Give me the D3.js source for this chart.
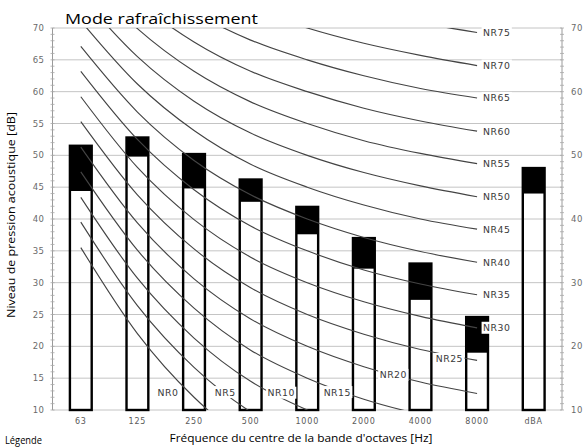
<!DOCTYPE html>
<html><head><meta charset="utf-8">
<script src="https://cdn.jsdelivr.net/npm/d3@7"></script>
<style>
body{margin:0;background:#fff}
svg{display:block}
</style></head><body>
<svg id="chart" width="585" height="447"></svg>
<script>
// Octave bands plus the overall A-weighted level
const categories = ['63', '125', '250', '500', '1000', '2000', '4000', '8000', 'dBA'];
// Total level (top of the black block) and base level (top of the white part), dB
const totalLevel = [51.5, 52.8, 50.2, 46.2, 41.9, 37.0, 33.0, 24.6, 48.0];
const baseLevel  = [44.4, 49.8, 44.8, 42.7, 37.6, 32.2, 27.3, 19.0, 44.0];

// Noise Rating curves, levels in dB for the bands 63 ... 8000 Hz
const nrBands = ['63', '125', '250', '500', '1000', '2000', '4000', '8000'];
const nrNames = ['NR0', 'NR5', 'NR10', 'NR15', 'NR20', 'NR25', 'NR30', 'NR35',
                 'NR40', 'NR45', 'NR50', 'NR55', 'NR60', 'NR65', 'NR70', 'NR75'];
const nrCurves = [
  [35.5, 22.0, 12.0,  4.8,  0.0, -3.5, -6.1, -8.0],
  [39.5, 26.4, 16.7,  9.7,  5.0,  1.6, -1.0, -2.9],
  [43.4, 30.7, 21.3, 14.5, 10.0,  6.7,  4.2,  2.3],
  [47.4, 35.1, 26.0, 19.4, 15.0, 11.7,  9.3,  7.5],
  [51.3, 39.4, 30.6, 24.3, 20.0, 16.8, 14.4, 12.6],
  [55.3, 43.8, 35.3, 29.2, 25.0, 21.9, 19.5, 17.8],
  [59.2, 48.1, 39.9, 34.0, 30.0, 27.0, 24.7, 22.9],
  [63.2, 52.5, 44.6, 38.9, 35.0, 32.0, 29.8, 28.1],
  [67.1, 56.8, 49.2, 43.8, 40.0, 37.1, 34.9, 33.2],
  [71.1, 61.2, 53.9, 48.6, 45.0, 42.2, 40.0, 38.4],
  [75.0, 65.5, 58.5, 53.5, 50.0, 47.3, 45.2, 43.5],
  [78.9, 69.9, 63.2, 58.4, 55.0, 52.3, 50.3, 48.7],
  [82.9, 74.2, 67.8, 63.2, 60.0, 57.4, 55.4, 53.8],
  [86.9, 78.6, 72.5, 68.1, 65.0, 62.5, 60.5, 59.0],
  [90.8, 82.9, 77.1, 73.0, 70.0, 67.6, 65.7, 64.1],
  [94.8, 87.3, 81.8, 77.9, 75.0, 72.6, 70.8, 69.3]
];
// In-plot label anchors for the low curves: [band index, dB]
const lowLabelAnchors = [[1.54, 12.8], [2.55, 12.8], [3.54, 12.7], [4.53, 12.8], [5.52, 15.5], [6.51, 18.0]];

const leftTicks  = [10, 15, 20, 25, 30, 35, 40, 45, 50, 55, 60, 65, 70];
const rightTicks = [10, 20, 30, 40, 50, 60, 70];
const minorTicks = d3.range(10, 71, 1);

const title = 'Mode rafraîchissement';
const yTitle = 'Niveau de pression acoustique [dB]';
const xTitle = "Fréquence du centre de la bande d'octaves [Hz]";
const legendText = 'Légende';

const svg = d3.select('#chart');
const L = 52.5, R = 562, T = 28, B = 410;

const x = d3.scaleBand().domain(categories).range([L, R]).padding(0);
const y = d3.scaleLinear().domain([10, 70]).range([B, T]);
const cx = c => x(c) + x.bandwidth() / 2;
const cxIdx = i => L + (i + 0.5) * x.step();

const tickFont = 'DejaVu Sans, sans-serif';
const textFont = "'Open Sans', sans-serif";

svg.append('defs').append('clipPath').attr('id', 'plot')
  .append('rect').attr('x', L).attr('y', T).attr('width', R - L).attr('height', B - T);

// horizontal grid
svg.append('g').selectAll('line').data(leftTicks).join('line')
  .attr('x1', L).attr('x2', R)
  .attr('y1', d => y(d)).attr('y2', d => y(d))
  .attr('stroke', '#c4c4c4').attr('stroke-width', 1);

// axis lines with minor ticks
[L, R].forEach(ax => {
  const g = svg.append('g');
  g.append('line').attr('x1', ax).attr('x2', ax).attr('y1', T).attr('y2', B)
    .attr('stroke', '#9a9a9a').attr('stroke-width', 1);
  g.selectAll('line.m').data(minorTicks).join('line').attr('class', 'm')
    .attr('x1', ax - 2).attr('x2', ax + 2)
    .attr('y1', d => y(d)).attr('y2', d => y(d))
    .attr('stroke', '#a8a8a8').attr('stroke-width', 0.8);
});

// left tick labels
svg.append('g').selectAll('text').data(leftTicks).join('text')
  .attr('x', L - 8).attr('y', d => y(d) + 3)
  .attr('text-anchor', 'end')
  .attr('font-family', tickFont).attr('font-size', 8.5).attr('fill', '#6a6a6a')
  .attr('letter-spacing', 0.5)
  .text(d => d);

// right tick labels
svg.append('g').selectAll('text').data(rightTicks).join('text')
  .attr('x', R + 9).attr('y', d => y(d) + 3)
  .attr('text-anchor', 'start')
  .attr('font-family', tickFont).attr('font-size', 8.5).attr('fill', '#6a6a6a')
  .attr('letter-spacing', 0.5)
  .text(d => d);

// category labels
svg.append('g').selectAll('text').data(categories).join('text')
  .attr('x', d => cx(d)).attr('y', B + 14)
  .attr('text-anchor', 'middle')
  .attr('font-family', tickFont).attr('font-size', 8).attr('fill', '#5a5a5a')
  .attr('letter-spacing', 0.8)
  .text(d => d);

// bars: outlined column with a solid block between base and total level
const barW = x.bandwidth() * 0.385;
const bars = svg.append('g');
bars.selectAll('rect.blk').data(categories).join('rect').attr('class', 'blk')
  .attr('x', d => cx(d) - barW / 2).attr('width', barW)
  .attr('y', (d, i) => y(totalLevel[i]))
  .attr('height', (d, i) => y(baseLevel[i]) - y(totalLevel[i]))
  .attr('fill', '#000');
bars.selectAll('rect.out').data(categories).join('rect').attr('class', 'out')
  .attr('x', d => cx(d) - barW / 2).attr('width', barW)
  .attr('y', (d, i) => y(totalLevel[i]))
  .attr('height', (d, i) => y(10) - y(totalLevel[i]))
  .attr('fill', 'none').attr('stroke', '#000').attr('stroke-width', 2.4);

// NR curves
const line = d3.line()
  .x((d, i) => cx(nrBands[i]))
  .y(d => y(d))
  .curve(d3.curveMonotoneX);
svg.append('g').attr('clip-path', 'url(#plot)')
  .selectAll('path').data(nrCurves).join('path')
  .attr('d', line)
  .attr('fill', 'none').attr('stroke', '#444').attr('stroke-width', 1.15);

// NR labels with a white backing box
const labG = svg.append('g');
function nrLabel(txt, px, py, anchor) {
  const g = labG.append('g');
  const t = g.append('text')
    .attr('x', px).attr('y', py + 3.4)
    .attr('text-anchor', anchor)
    .attr('font-family', tickFont).attr('font-size', 9.3).attr('fill', '#3a3a3a')
    .attr('letter-spacing', 0.5)
    .text(txt);
  const bb = t.node().getBBox();
  g.insert('rect', 'text')
    .attr('x', bb.x - 1.5).attr('y', bb.y - 0.5)
    .attr('width', bb.width + 3).attr('height', bb.height + 1)
    .attr('fill', '#fff');
}
nrNames.forEach((name, k) => {
  if (k < lowLabelAnchors.length) {
    const [idx, db] = lowLabelAnchors[k];
    nrLabel(name, cxIdx(idx), y(db), 'middle');
  } else {
    const last = nrCurves[k][nrCurves[k].length - 1];
    nrLabel(name, cx('8000') + 6, y(last), 'start');
  }
});

// titles
svg.append('text').attr('x', 65).attr('y', 24)
  .attr('font-family', textFont).attr('font-size', 15).attr('fill', '#000')
  .attr('textLength', 193).attr('lengthAdjust', 'spacingAndGlyphs')
  .text(title);
svg.append('text')
  .attr('transform', `translate(15,${(T + B) / 2 - 4}) rotate(-90)`)
  .attr('text-anchor', 'middle')
  .attr('font-family', textFont).attr('font-size', 10.5).attr('fill', '#000')
  .attr('textLength', 206).attr('lengthAdjust', 'spacingAndGlyphs')
  .text(yTitle);
svg.append('text').attr('x', 301).attr('y', 442)
  .attr('text-anchor', 'middle')
  .attr('font-family', textFont).attr('font-size', 10.5).attr('fill', '#000')
  .attr('textLength', 263).attr('lengthAdjust', 'spacingAndGlyphs')
  .text(xTitle);
svg.append('text').attr('x', 5).attr('y', 444)
  .attr('font-family', textFont).attr('font-size', 10).attr('fill', '#000')
  .attr('textLength', 37).attr('lengthAdjust', 'spacingAndGlyphs')
  .text(legendText);
</script>
</body></html>
